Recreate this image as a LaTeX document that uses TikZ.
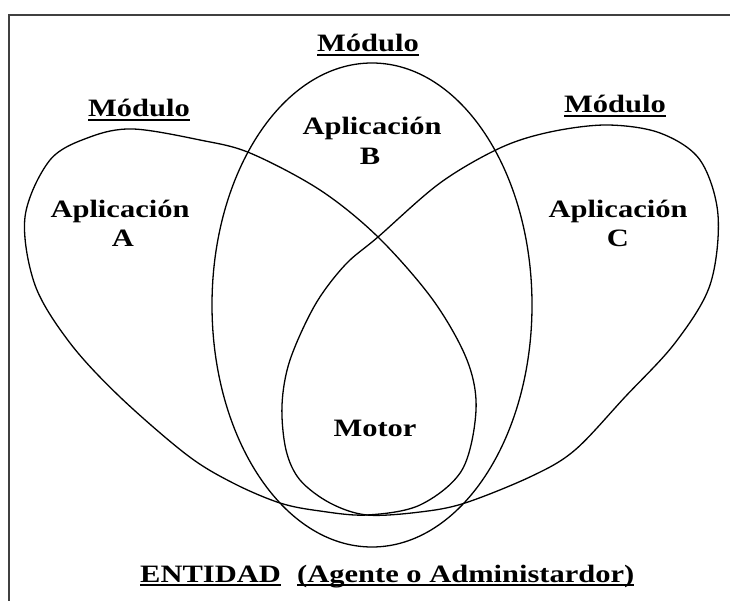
\documentclass[tikz,border=0pt]{standalone}
\usepackage{fontspec}
\setmainfont{Liberation Serif}
% underlined text with a thick rule below the baseline
\newcommand\undertext[1]{\setbox0\hbox{#1}\leavevmode\rlap{\rule[-4pt]{\wd0}{1.8pt}}\box0}
% horizontally widened lettering
\newcommand\widetext[1]{\scalebox{1.22}[1]{#1}}
\tikzset{
  lbl/.style={font=\fontsize{25}{28}\selectfont\bfseries, inner sep=0pt, anchor=base},
  petal/.style={line width=1.3pt, black},
  frameline/.style={line width=2pt, black!75},
}
\begin{document}
\begin{tikzpicture}[x=1pt,y=-1pt]
\useasboundingbox (0,0) rectangle (730,601);
% frame (top and left edges)
\coordinate (fr) at (730,15);
\coordinate (fc) at (9,15);
\coordinate (fb) at (9,601);
\draw[frameline] (fr) -- (fc) -- (fb);

% module B: the central ellipse
\draw[petal] (372,305) ellipse [x radius=160, y radius=242];

% module A: left petal
\draw[petal] plot[smooth cycle, tension=0.55] coordinates {
  (25,217) (50,160) (90,137) (133,129) (200,140) (250,153) (320,190)
  (378,237) (433,300) (467,360) (476,410) (462,470) (420,505) (367,515)
  (320,511) (280,503) (233,483) (187,455) (120,397) (70,343) (35,285)};

% module C: right petal
\draw[petal] plot[smooth cycle, tension=0.55] coordinates {
  (718,215) (710,285) (675,343) (625,397) (575,450) (532,476) (465,503)
  (420,512) (367,515) (330,503) (300,480) (286,450) (282,405) (290,360)
  (315,305) (345,265) (378,237) (440,183) (500,148) (550,132) (607,125)
  (660,133) (700,160)};

% labels
\node[lbl] (modA) at (139,117) {\widetext{\undertext{Módulo}}};
\node[lbl] (modB) at (368,52) {\widetext{\undertext{Módulo}}};
\node[lbl] (modC) at (615,113) {\widetext{\undertext{Módulo}}};

\node[lbl] (appA) at (120,218) {\widetext{Aplicación}};
\node[lbl] (letA) at (123,247) {\widetext{A}};
\node[lbl] (appB) at (372,135) {\widetext{Aplicación}};
\node[lbl] (letB) at (370,165) {\widetext{B}};
\node[lbl] (appC) at (618,218) {\widetext{Aplicación}};
\node[lbl] (letC) at (618,247) {\widetext{C}};

\node[lbl] (motor) at (375,436) {\widetext{Motor}};

\node[lbl, anchor=base west] (ent) at (140,582) {\widetext{\undertext{ENTIDAD}}};
\node[lbl, anchor=base west] (agt) at (297,582) {\widetext{\undertext{(Agente o Administardor)}}};
\end{tikzpicture}
\end{document}
